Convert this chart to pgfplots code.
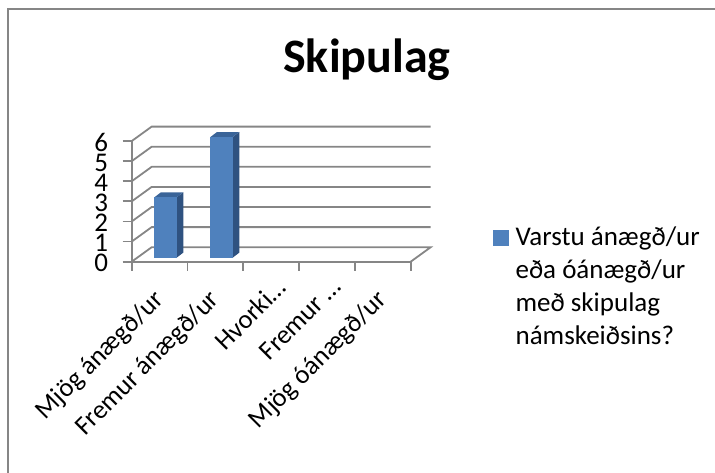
\documentclass[border=0pt]{standalone}
\usepackage{pgfplots}
\usepackage{fontspec}
\setmainfont{Carlito}
\pgfplotsset{compat=1.18}
\definecolor{gridgray}{HTML}{868686}
\definecolor{barfront}{HTML}{4F81BD}
\definecolor{barside}{HTML}{2F5280}
\definecolor{bartop}{HTML}{3A6498}
\newcommand{\fs}[1]{\fontsize{#1}{#1}\selectfont}
\pgfplotsset{
  wall/.style={draw=gridgray, line width=1.8pt, forget plot},
  front/.style={fill=barfront, draw=none, forget plot},
  side/.style={fill=barside, draw=none, forget plot},
  roof/.style={fill=bartop, draw=none, forget plot},
}
\begin{document}
\begin{tikzpicture}
\path[use as bounding box] (0,0) rectangle (715pt,473pt);
\draw[gridgray, line width=1.8pt] (8pt,0) -- (8pt,464pt) -- (715pt,464pt);
\begin{axis}[
  at={(131.7pt,211.3pt)}, anchor=origin,
  scale only axis, x=55.8pt, y=20.1pt,
  xmin=0, xmax=5, ymin=0, ymax=6,
  clip=false,
  axis lines=left, axis line style={-, draw=gridgray, line width=1.8pt},
  tick style={draw=gridgray, line width=1.8pt},
  tick align=outside, major tick length=9pt,
  xtick={0,1,2,3,4,5}, xticklabels={},
  ytick={0,1,2,3,4,5,6},
  y tick label style={font=\fs{27}, /pgf/number format/assume math mode=true},
  yticklabel style={xshift=-11pt, yshift=-1.5pt},
  extra x ticks={0.5,1.5,2.5,3.5,4.5},
  extra x tick labels={
    Mjög ánægð/ur,
    Fremur ánægð/ur,
    Hvorki…\hspace*{-16pt},
    Fremur …\hspace*{-16pt},
    Mjög óánægð/ur},
  extra x tick style={
    major tick length=0pt,
    % shifts act in the rotated frame of the label
    tick label style={font=\fs{26.5}, rotate=45, anchor=north east, inner sep=0pt, yshift=-12.8pt, xshift=-24pt},
  },
  title={Skipulag},
  title style={font=\fs{48}\bfseries, at={(axis description cs:0.843,1.522)}, anchor=base},
  legend cell align=left,
  legend style={at={(axis description cs:1.295,0.305)}, anchor=north west, draw=none, fill=none,
    inner sep=0pt, font=\fs{27}, row sep=0pt, column sep=5pt},
  legend image code/.code={\fill[barfront] (0pt,-8pt) rectangle (15pt,7pt);},
]
\addlegendimage{}
\addlegendentry{\parbox[t]{195pt}{\baselineskip=32.8pt Varstu ánægð/ur\\eða óánægð/ur\\með skipulag\\námskeiðsins?}}

% back wall and left wall, depth offset is 0.358 in x and 0.72 in y
\addplot[wall] coordinates {(0,0)(0.358,0.72)(5.358,0.72)(5,0)};
\addplot[wall] coordinates {(0,1)(0.358,1.72)(5.358,1.72)};
\addplot[wall] coordinates {(0,2)(0.358,2.72)(5.358,2.72)};
\addplot[wall] coordinates {(0,3)(0.358,3.72)(5.358,3.72)};
\addplot[wall] coordinates {(0,4)(0.358,4.72)(5.358,4.72)};
\addplot[wall] coordinates {(0,5)(0.358,5.72)(5.358,5.72)};
\addplot[wall] coordinates {(0,6)(0.358,6.72)(5.358,6.72)};

% value 3, base raised 0.2 by its place in the depth
\addplot[side] coordinates {(0.806,0.2)(0.924,0.45)(0.924,3.45)(0.806,3.2)} -- cycle;
\addplot[roof] coordinates {(0.405,3.2)(0.806,3.2)(0.924,3.45)(0.523,3.45)} -- cycle;
\addplot[front] coordinates {(0.405,0.2)(0.806,0.2)(0.806,3.2)(0.405,3.2)} -- cycle;

% value 6
\addplot[side] coordinates {(1.81,0.2)(1.928,0.45)(1.928,6.45)(1.81,6.2)} -- cycle;
\addplot[roof] coordinates {(1.41,6.2)(1.81,6.2)(1.928,6.45)(1.528,6.45)} -- cycle;
\addplot[front] coordinates {(1.41,0.2)(1.81,0.2)(1.81,6.2)(1.41,6.2)} -- cycle;
\end{axis}
\end{tikzpicture}
\end{document}
